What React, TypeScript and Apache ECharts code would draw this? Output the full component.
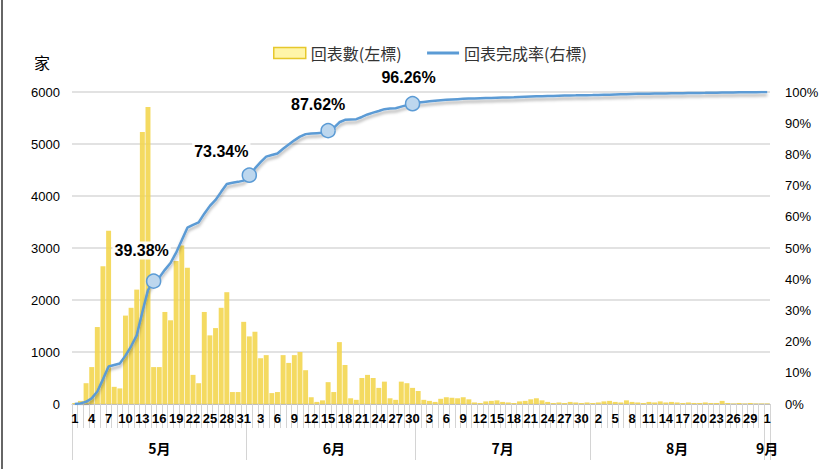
import React, { useEffect, useRef } from "react";
import * as echarts from "echarts";

// ---- data ----
const monthNames = ["5月", "6月", "7月", "8月", "9月"];
const monthDays = [31, 30, 31, 31, 1];

const barsMay = [20, 60, 400, 710, 1480, 2650, 3330, 330, 300, 1700, 1850, 2200, 5230, 5710, 710, 710, 1770, 1610, 2750, 3050, 2620, 560, 400, 1770, 1320, 1460, 1850, 2150, 230, 230, 1580];
const barsJun = [1300, 1390, 880, 940, 210, 230, 940, 790, 940, 1000, 650, 130, 40, 70, 420, 230, 1190, 750, 110, 80, 500, 560, 500, 310, 430, 110, 80, 430, 400, 310];
const barsJul = [250, 80, 60, 40, 100, 130, 120, 110, 130, 90, 30, 20, 50, 60, 70, 40, 30, 20, 50, 60, 90, 110, 70, 40, 20, 30, 20, 40, 30, 20, 30];
const barsAug = [20, 30, 50, 60, 40, 30, 70, 40, 30, 20, 40, 30, 50, 30, 40, 30, 20, 30, 20, 20, 30, 20, 20, 60, 20, 10, 20, 10, 20, 10, 10];
const barsSep = [10];

const rateMay = [0, 0.2, 0.7, 1.8, 4.0, 7.9, 12.0, 12.5, 13.0, 15.5, 18.5, 22.0, 29.5, 36.5, 39.38, 40.5, 43.0, 45.2, 48.5, 52.5, 56.5, 57.4, 58.2, 61.0, 63.5, 65.4, 68.0, 70.5, 70.9, 71.2, 71.6];
const rateJun = [73.34, 75.5, 77.5, 79.3, 79.8, 80.3, 81.8, 83.2, 84.5, 85.7, 86.5, 86.7, 86.8, 86.9, 87.62, 88.5, 90.3, 91.1, 91.2, 91.3, 92.0, 92.8, 93.4, 93.9, 94.5, 94.7, 94.8, 95.3, 95.8, 96.26];
const rateJul = [96.6, 96.8, 97.0, 97.2, 97.35, 97.5, 97.6, 97.7, 97.8, 97.9, 97.95, 98.0, 98.05, 98.1, 98.15, 98.2, 98.25, 98.3, 98.4, 98.5, 98.55, 98.6, 98.65, 98.7, 98.75, 98.8, 98.85, 98.9, 98.92, 98.95, 98.98];
const rateAug = [99.0, 99.05, 99.1, 99.15, 99.2, 99.25, 99.3, 99.35, 99.4, 99.42, 99.45, 99.5, 99.52, 99.55, 99.58, 99.6, 99.62, 99.65, 99.68, 99.7, 99.72, 99.75, 99.78, 99.8, 99.82, 99.85, 99.88, 99.9, 99.93, 99.95, 99.98];
const rateSep = [100];

// highlighted points
const markedDays = ["5/15", "6/1", "6/15", "6/30"];

const leftTicks = { min: 0, max: 6000, interval: 1000 };
const rightTicks = { min: 0, max: 100, interval: 10 };

const seriesNames = ["回表數(左標)", "回表完成率(右標)"];
const unitName = "家";

// ---- derived ----
const categories: string[] = [];
monthDays.forEach((n, mi) => {
  for (let d = 1; d <= n; d++) categories.push(`${mi + 5}/${d}`);
});
const bars = [...barsMay, ...barsJun, ...barsJul, ...barsAug, ...barsSep];
const rates = [...rateMay, ...rateJun, ...rateJul, ...rateAug, ...rateSep];

const monthStart: number[] = [];
const monthMid: Record<number, string> = {};
{
  let s = 0;
  monthDays.forEach((n, mi) => {
    monthStart.push(s);
    const mid = n === 1 ? s : s + Math.floor(n / 2);
    monthMid[mid] = monthNames[mi];
    s += n;
  });
}
const startSet = new Set(monthStart);

const labelOffsets: Record<string, number[]> = {
  "5/15": [-12, -9],
  "6/1": [-28, -2],
  "6/15": [-10, -4],
  "6/30": [-4, -4],
};

const BLUE = "#5B9BD5";
const FONT = "Liberation Sans, Arial, sans-serif";
const CJK = "Noto Sans CJK TC, sans-serif";

export default function App() {
  const ref = useRef<HTMLDivElement>(null);
  useEffect(() => {
    if (!ref.current) return;
    const chart = echarts.init(ref.current, undefined, { renderer: "svg" });
    const lineData = rates.map((v, i) => {
      const c = categories[i];
      if (markedDays.includes(c)) {
        return {
          value: v,
          symbol: "circle",
          symbolSize: 14,
          itemStyle: { color: "#BDD7EE", borderColor: BLUE, borderWidth: 1.5 },
          label: {
            show: true,
            position: "top",
            offset: labelOffsets[c],
            formatter: v.toFixed(2) + "%",
            fontFamily: FONT,
            fontWeight: "bold",
            fontSize: 16,
            color: "#000",
            backgroundColor: "rgba(255,255,255,0.9)",
            padding: [1, 2],
          },
        };
      }
      return { value: v };
    });
    chart.setOption({
      animation: false,
      backgroundColor: "#fff",
      graphic: [
        {
          type: "line",
          shape: { x1: 2, y1: 0, x2: 2, y2: 469 },
          style: { stroke: "#333", lineWidth: 1.5 },
        },
      ],
      legend: {
        top: 40,
        left: 268,
        itemWidth: 32,
        itemHeight: 11,
        itemGap: 24,
        textStyle: { fontFamily: CJK, fontSize: 16, color: "#333" },
        data: [
          {
            name: seriesNames[0],
            icon: "rect",
            itemStyle: { color: "#FFF4A0", borderColor: "#E3C21A", borderWidth: 1.5 },
          },
          { name: seriesNames[1], itemStyle: { opacity: 0 }, lineStyle: { color: BLUE, width: 3 } },
        ],
      },
      grid: { left: 72, right: 64, top: 92, bottom: 65 },
      xAxis: [
        {
          type: "category",
          data: categories,
          boundaryGap: true,
          axisLine: { lineStyle: { color: "#bfbfbf", width: 1 } },
          axisTick: { show: true, interval: 0, length: 24, lineStyle: { color: "#d4d4d4" } },
          axisLabel: {
            interval: 2,
            formatter: (v: string) => v.split("/")[1],
            fontFamily: FONT,
            fontWeight: "bold",
            fontSize: 13,
            color: "#000",
            margin: 8,
          },
        },
        {
          type: "category",
          data: categories,
          position: "bottom",
          boundaryGap: true,
          axisLine: { show: false },
          axisTick: {
            show: true,
            interval: (i: number) => startSet.has(i) || i === categories.length - 1,
            length: 56,
            lineStyle: { color: "#d4d4d4" },
          },
          axisLabel: {
            interval: (i: number) => monthMid[i] !== undefined,
            formatter: (_v: string, i: number) => monthMid[i] || "",
            fontFamily: CJK,
            fontWeight: "bold",
            fontSize: 14,
            color: "#000",
            margin: 37,
          },
        },
      ],
      yAxis: [
        {
          type: "value",
          ...leftTicks,
          name: unitName,
          nameLocation: "end",
          nameGap: 22,
          nameTextStyle: { fontFamily: CJK, fontSize: 16, color: "#000", align: "center", padding: [0, 60, 0, 0] },
          axisLine: { show: false },
          axisTick: { show: false },
          axisLabel: { fontFamily: FONT, fontSize: 13, color: "#000", margin: 12, formatter: (v: number) => String(v) },
          splitLine: { lineStyle: { color: "#e2e2e2", width: 2 } },
        },
        {
          type: "value",
          ...rightTicks,
          position: "right",
          axisLine: { show: false },
          axisTick: { show: false },
          axisLabel: { fontFamily: FONT, fontSize: 13, color: "#000", margin: 15, formatter: "{value}%" },
          splitLine: { show: false },
        },
      ],
      series: [
        {
          name: seriesNames[0],
          type: "bar",
          xAxisIndex: 0,
          yAxisIndex: 0,
          data: bars,
          barCategoryGap: "12%",
          itemStyle: { color: "#F3D650", opacity: 0.9 },
        },
        {
          name: seriesNames[1],
          type: "line",
          xAxisIndex: 0,
          yAxisIndex: 1,
          data: lineData,
          symbol: "none",
          showSymbol: true,
          showAllSymbol: true,
          smooth: false,
          lineStyle: {
            color: BLUE,
            width: 2.5,
            shadowColor: "rgba(0,0,0,0.3)",
            shadowBlur: 3,
            shadowOffsetY: 3,
          },
          itemStyle: { color: BLUE },
          z: 5,
        },
      ],
    });
    return () => chart.dispose();
  }, []);
  return (
    <div
      ref={ref}
      style={{ position: "absolute", left: 0, top: 0, width: 834, height: 469 }}
    />
  );
}
